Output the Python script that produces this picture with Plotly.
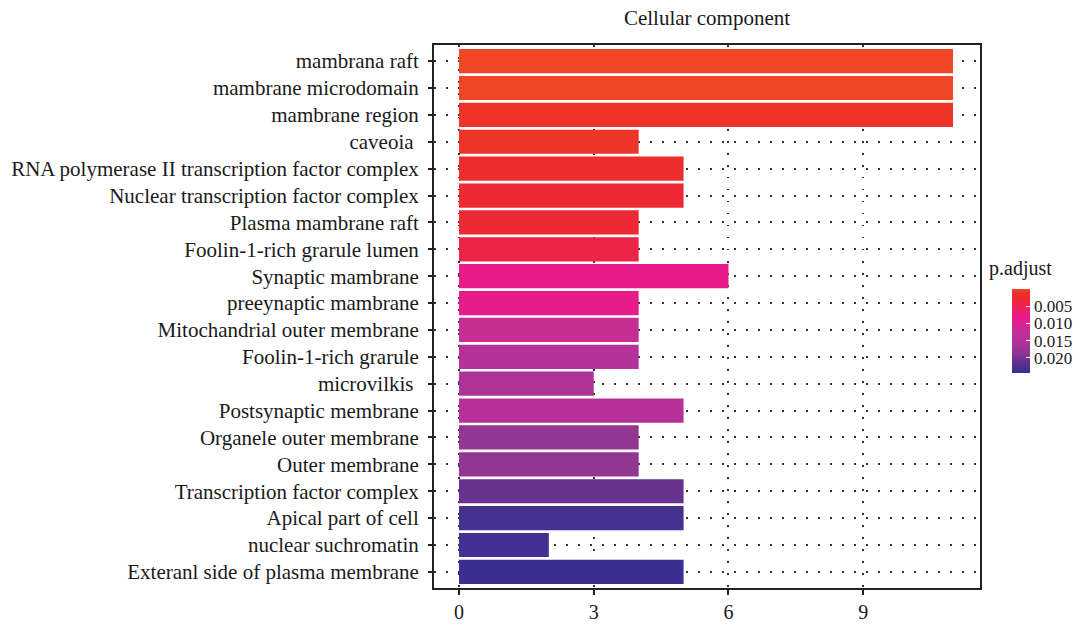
import plotly.graph_objects as go

# GO cellular-component enrichment: term, gene count, adjusted p-value
terms = [
    "mambrana raft",
    "mambrane microdomain",
    "mambrane region",
    "caveoia ",
    "RNA polymerase II transcription factor complex",
    "Nuclear transcription factor complex",
    "Plasma mambrane raft",
    "Foolin-1-rich grarule lumen",
    "Synaptic mambrane",
    "preeynaptic mambrane",
    "Mitochandrial outer membrane",
    "Foolin-1-rich grarule",
    "microvilkis ",
    "Postsynaptic membrane",
    "Organele outer membrane",
    "Outer membrane",
    "Transcription factor complex",
    "Apical part of cell",
    "nuclear suchromatin",
    "Exteranl side of plasma membrane",
]
counts = [11, 11, 11, 4, 5, 5, 4, 4, 6, 4, 4, 4, 3, 5, 4, 4, 5, 5, 2, 5]
p_adjust = [0.0002, 0.0002, 0.0010, 0.0012, 0.0020, 0.0028, 0.0030, 0.0045,
            0.0080, 0.0082, 0.0120, 0.0150, 0.0158, 0.0148, 0.0185, 0.0185,
            0.0210, 0.0233, 0.0235, 0.0244]

cbar_ticks = [0.005, 0.010, 0.015, 0.020]
x_ticks = [0, 3, 6, 9]

p_min, p_max = 0.0, 0.0244

# colour stops along p.adjust (small p = red, large p = blue)
stops = [
    (0.0000, "#F04A26"),
    (0.0010, "#EE3427"),
    (0.0025, "#ED2A30"),
    (0.0045, "#EC2448"),
    (0.0080, "#EA1A8A"),
    (0.0120, "#C72D93"),
    (0.0150, "#B5329A"),
    (0.0185, "#923593"),
    (0.0210, "#66318F"),
    (0.0235, "#433090"),
    (0.0244, "#3A2F90"),
]
# the colour bar runs low-p at the top, so colour by -p
colorscale = sorted(
    [(1 - (p - p_min) / (p_max - p_min), c) for p, c in stops], key=lambda s: s[0]
)

FONT = "Liberation Serif"
TXT = "#1a1a1a"
L, R, T, B = 434, 107, 45, 39
W, H = 1087, 627
pw, ph = W - L - R, H - T - B

fig = go.Figure(
    go.Bar(
        x=counts,
        y=terms,
        orientation="h",
        width=0.9,
        marker=dict(
            color=[-p for p in p_adjust],
            colorscale=colorscale,
            cmin=-p_max,
            cmax=-p_min,
            line=dict(width=0),
            colorbar=dict(
                tickvals=[-t for t in cbar_ticks],
                ticktext=[f"{t:.3f}" for t in cbar_ticks],
                ticks="inside",
                ticklen=4,
                tickcolor="white",
                tickwidth=1,
                outlinewidth=0,
                thickness=18,
                thicknessmode="pixels",
                len=84,
                lenmode="pixels",
                x=(1012 - L) / pw,
                xanchor="left",
                xpad=0,
                y=(H - B - 331) / ph,
                yanchor="middle",
                ypad=0,
                tickfont=dict(family=FONT, size=17, color=TXT),
            ),
        ),
    )
)

fig.add_annotation(
    text="p.adjust",
    xref="paper", yref="paper",
    x=(987 - L) / pw, y=(H - B - 268) / ph,
    xanchor="left", yanchor="middle",
    showarrow=False,
    font=dict(family=FONT, size=20, color=TXT),
)

fig.update_layout(
    width=W,
    height=H,
    margin=dict(l=L, r=R, t=T, b=B, autoexpand=False),
    paper_bgcolor="white",
    plot_bgcolor="white",
    showlegend=False,
    title=dict(
        text="Cellular component",
        x=(L + pw / 2) / W,
        xanchor="center",
        y=1 - 18 / H,
        yanchor="middle",
        font=dict(family=FONT, size=21, color=TXT),
    ),
)

fig.update_xaxes(
    automargin=False,
    range=[-0.557, 11.6],
    tickvals=x_ticks,
    ticks="outside",
    ticklen=5,
    tickwidth=1.5,
    tickcolor="#222",
    showline=True,
    linecolor="#222",
    linewidth=1.5,
    mirror=True,
    showgrid=True,
    gridcolor="#333",
    gridwidth=1.5,
    griddash="1.5px,10.5px",
    zeroline=False,
    tickfont=dict(family=FONT, size=20, color=TXT),
)

fig.update_yaxes(
    automargin=False,
    categoryorder="array",
    categoryarray=terms,
    range=[len(terms) - 0.4, -0.6],
    ticks="outside",
    ticklen=4,
    tickwidth=1.5,
    tickcolor="#222",
    showline=True,
    linecolor="#222",
    linewidth=1.5,
    mirror=True,
    showgrid=True,
    gridcolor="#333",
    gridwidth=1.5,
    griddash="1.5px,10.5px",
    zeroline=False,
    ticksuffix=" ",
    tickfont=dict(family=FONT, size=21, color=TXT),
)

fig.write_html("out.html")
